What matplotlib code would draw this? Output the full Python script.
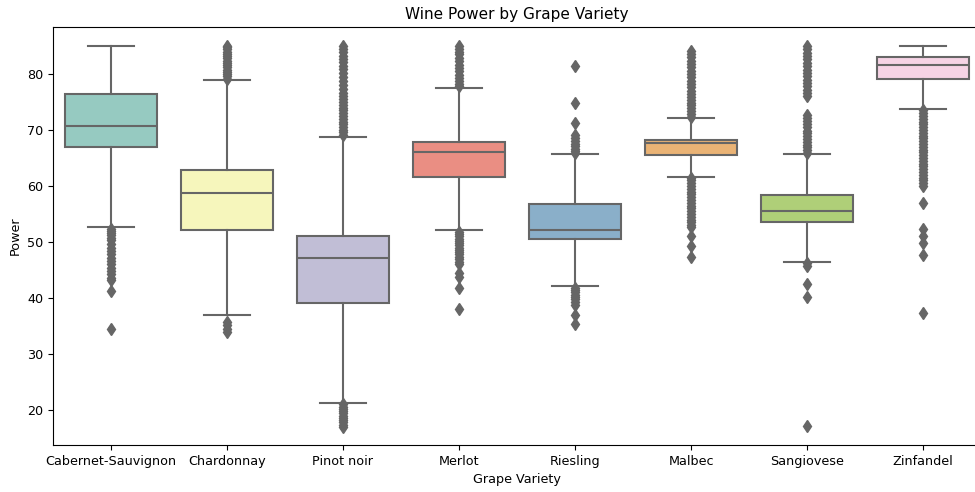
import matplotlib.pyplot as plt
import seaborn as sns

# Box summary values
varieties = ['Cabernet-Sauvignon', 'Chardonnay', 'Pinot noir', 'Merlot',
             'Riesling', 'Malbec', 'Sangiovese', 'Zinfandel']
whislo = [52.6, 37.0, 21.3, 52.1, 42.1, 61.7, 46.5, 73.7]
q1 = [66.9, 52.2, 39.1, 61.6, 50.6, 65.6, 53.6, 79.2]
med = [70.7, 58.7, 47.2, 66.1, 52.1, 67.7, 55.5, 81.7]
q3 = [76.5, 62.8, 51.0, 67.9, 56.8, 68.3, 58.4, 83.0]
whishi = [85.0, 78.9, 68.8, 77.5, 65.7, 72.1, 65.7, 85.0]

# Outliers per variety
fliers_cab = [52.4, 52.0, 51.6, 51.2, 50.8, 50.3, 49.6, 49.0, 48.4, 47.8,
              47.2, 46.6, 46.0, 45.3, 44.8, 44.2, 43.6, 43.2, 41.2, 34.4]
fliers_char = [79.2, 79.6, 80.0, 80.4, 80.8, 81.2, 81.6, 82.0, 82.4, 82.8,
               83.2, 83.6, 84.0, 84.4, 84.8, 85.0, 35.8, 35.2, 34.4, 34.0]
fliers_pinot = [69.2, 69.6, 70.0, 70.5, 71.0, 71.5, 72.0, 72.5, 73.0, 73.5,
                74.0, 74.5, 75.0, 75.5, 76.0, 76.6, 77.3, 78.0, 78.8, 79.5,
                80.2, 80.9, 81.5, 82.1, 82.7, 83.3, 83.9, 84.5, 85.0,
                21.0, 20.6, 20.2, 19.8, 19.4, 19.0, 18.6, 18.2, 17.8, 17.4, 17.0]
fliers_merlot = [77.8, 78.3, 78.8, 79.3, 79.9, 80.5, 81.1, 81.7, 82.3, 82.9,
                 83.5, 84.0, 84.5, 85.0,
                 51.8, 51.4, 51.0, 50.6, 50.2, 49.8, 49.4, 49.0, 48.6, 48.2,
                 47.8, 47.4, 47.0, 46.5, 46.0, 44.5, 43.8, 41.8, 38.0]
fliers_ries = [65.9, 66.3, 66.7, 67.1, 67.5, 68.0, 68.6, 69.2, 71.2, 74.8, 81.4,
               41.8, 41.4, 41.0, 40.6, 40.2, 39.8, 39.3, 38.8, 37.0, 35.3]
fliers_malbec = [72.4, 72.9, 73.4, 73.9, 74.4, 74.9, 75.4, 75.9, 76.4, 77.0,
                 77.6, 78.2, 78.8, 79.4, 80.0, 80.6, 81.2, 81.8, 82.4, 83.0,
                 83.6, 84.2,
                 61.5, 61.0, 60.5, 60.0, 59.5, 59.0, 58.5, 58.0, 57.5, 57.0,
                 56.5, 56.0, 55.5, 55.0, 54.5, 54.0, 53.5, 53.0, 52.7,
                 51.0, 49.2, 47.4]
fliers_sang = [65.9, 66.4, 66.9, 67.4, 67.9, 68.4, 68.9, 69.4, 69.9, 70.5,
               71.1, 71.7, 72.2, 72.7,
               76.0, 76.6, 77.2, 77.8, 78.4, 79.0, 79.6, 80.2, 80.8, 81.4,
               82.0, 82.6, 83.2, 83.8, 84.4, 85.0,
               46.2, 45.8, 42.5, 40.1, 17.1]
fliers_zin = [73.5, 73.0, 72.5, 72.0, 71.5, 71.0, 70.5, 70.0, 69.5, 69.0,
              68.5, 68.0, 67.5, 67.0, 66.5, 66.0, 65.5, 65.0, 64.5, 64.0,
              63.5, 63.0, 62.5, 62.0, 61.5, 61.0, 60.5, 60.0,
              57.0, 52.4, 51.0, 49.8, 47.7, 37.4]
fliers = [fliers_cab, fliers_char, fliers_pinot, fliers_merlot,
          fliers_ries, fliers_malbec, fliers_sang, fliers_zin]

stats = []
for i in range(len(varieties)):
    stats.append({'label': varieties[i], 'whislo': whislo[i], 'q1': q1[i],
                  'med': med[i], 'q3': q3[i], 'whishi': whishi[i],
                  'fliers': fliers[i]})

colors = [sns.desaturate(c, 0.75) for c in sns.color_palette('Set3', 8)]
gray = '#666666'

plt.rcParams['font.size'] = 9.2

fig = plt.figure(figsize=(9.75, 4.92), dpi=100)
ax = fig.add_axes([53 / 975, 47 / 492, 928 / 975, 418 / 492])

bp = ax.bxp(stats, positions=range(8), widths=0.8, patch_artist=True,
            boxprops=dict(edgecolor=gray, linewidth=1.5),
            medianprops=dict(color=gray, linewidth=1.5),
            whiskerprops=dict(color=gray, linewidth=1.5),
            capprops=dict(color=gray, linewidth=1.5),
            flierprops=dict(marker='d', markerfacecolor=gray, markeredgecolor=gray,
                            markersize=6.5, linestyle='none'))
for patch, c in zip(bp['boxes'], colors):
    patch.set_facecolor(c)

ax.set_xlim(-0.5, 7.5)
ax.set_ylim(13.75, 88.4)
ax.set_xticks(range(8))
ax.set_xticklabels(varieties)
ax.set_title('Wine Power by Grape Variety', fontsize=11)
ax.set_xlabel('Grape Variety')
ax.set_ylabel('Power')

fig.savefig('out.png', dpi=100)
